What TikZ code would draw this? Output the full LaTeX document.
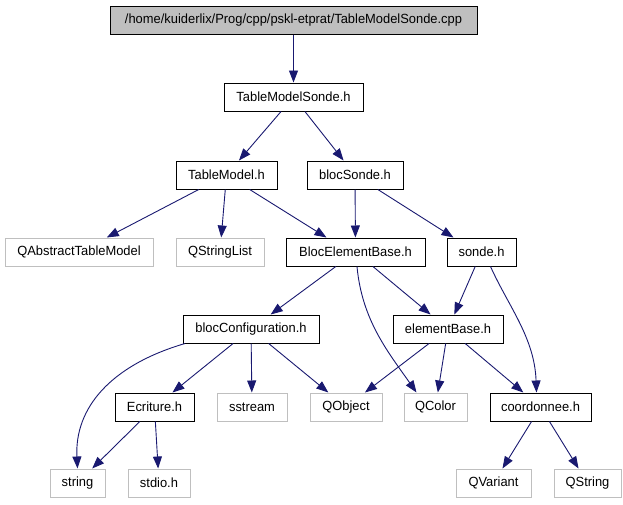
\documentclass[tikz,border=0pt]{standalone}
\usepackage{fontspec}
\setmainfont[FakeStretch=0.97]{Liberation Sans}
\usetikzlibrary{arrows.meta}
\definecolor{edgeblue}{HTML}{191970}
\definecolor{lgray}{HTML}{BFBFBF}
\begin{document}
\begin{tikzpicture}[x=1pt,y=-1pt,
  every node/.style={font=\fontsize{13.3}{15}\selectfont, inner sep=0pt, minimum height=28pt},
  blk/.style={draw=black, line width=1pt},
  gry/.style={draw=lgray, line width=1pt},
  edge/.style={draw=edgeblue, line width=0.9pt, -{Triangle[length=12pt,width=9pt]}}]
\useasboundingbox (0,0) rectangle (623,504);
% nodes
\node[blk, fill=lgray, minimum width=367pt] (root) at (293.5,20) {/home/kuiderlix/Prog/cpp/pskl-etprat/TableModelSonde.cpp};
\node[blk, minimum width=139pt] (tms) at (293.5,97) {TableModelSonde.h};
\node[blk, minimum width=101pt] (tm) at (226.5,175) {TableModel.h};
\node[blk, minimum width=96pt] (bs) at (355,175) {blocSonde.h};
\node[gry, minimum width=148pt] (qatm) at (79,252) {QAbstractTableModel};
\node[gry, minimum width=88pt] (qsl) at (220,252) {QStringList};
\node[blk, minimum width=139pt] (beb) at (355.5,252) {BlocElementBase.h};
\node[blk, minimum width=69pt] (sonde) at (481.5,252) {sonde.h};
\node[blk, minimum width=136pt] (bc) at (251,329) {blocConfiguration.h};
\node[blk, minimum width=110pt] (eb) at (448,329) {elementBase.h};
\node[blk, minimum width=79pt] (ecr) at (154.5,407) {Ecriture.h};
\node[gry, minimum width=70pt] (ss) at (252,407) {sstream};
\node[gry, minimum width=72pt] (qobj) at (346,407) {QObject};
\node[gry, minimum width=63pt] (qcol) at (435.5,407) {QColor};
\node[blk, minimum width=101pt] (coord) at (540.5,407) {coordonnee.h};
\node[gry, minimum width=55pt] (str) at (77.5,483) {string};
\node[gry, minimum width=62pt] (stdio) at (159,483) {stdio.h};
\node[gry, minimum width=75pt] (qvar) at (493.5,483) {QVariant};
\node[gry, minimum width=67pt] (qstr) at (587.5,483) {QString};
% edges
\draw[edge] (root) -- (tms);
\draw[edge] (tms) -- (tm);
\draw[edge] (tms) -- (bs);
\draw[edge] (tm) -- (qatm);
\draw[edge] (tm) -- (qsl);
\draw[edge] (tm) -- ([xshift=-29pt]beb.north);
\draw[edge] (bs) -- (beb);
\draw[edge] (bs) -- ([xshift=-28pt]sonde.north);
\draw[edge] (beb) -- (bc);
\draw[edge] (beb) -- (eb);
\draw[edge] ([xshift=1.5pt]beb.south) .. controls +(5,54) and +(-28,-40) .. ([xshift=-19pt]qcol.north);
\draw[edge] (sonde) -- (eb);
\draw[edge] ([xshift=9pt]sonde.south) .. controls +(18,40) and +(-2,-55) .. ([xshift=-4pt]coord.north);
\draw[edge] ([xshift=-66pt]bc.south) .. controls +(-75,22) and +(-3,-60) .. (str.north);
\draw[edge] (bc) -- (ecr);
\draw[edge] (bc) -- (ss);
\draw[edge] (bc) -- (qobj);
\draw[edge] (eb) -- (qobj);
\draw[edge] (eb) -- (qcol);
\draw[edge] (eb) -- (coord);
\draw[edge] (ecr) -- (str);
\draw[edge] (ecr) -- (stdio);
\draw[edge] (coord) -- (qvar);
\draw[edge] (coord) -- (qstr);
\end{tikzpicture}
\end{document}
